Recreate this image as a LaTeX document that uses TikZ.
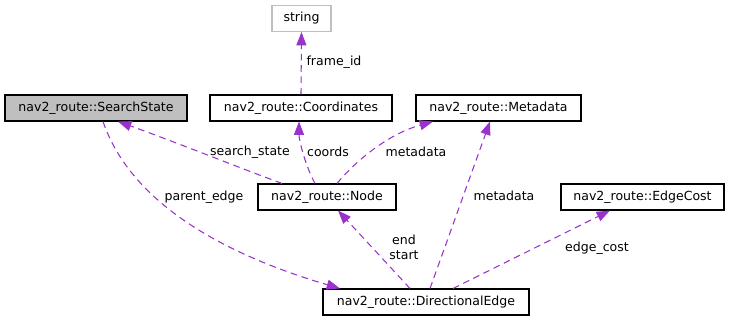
\documentclass[tikz,border=0pt]{standalone}
\usepackage{fontspec}
\setmainfont{DejaVu Sans}
\usetikzlibrary{arrows.meta,calc}
\definecolor{edgec}{HTML}{9A32CD}
\definecolor{grayfill}{HTML}{BFBFBF}
\begin{document}
\begin{tikzpicture}[x=0.75pt,y=-0.75pt,
  box/.style={draw=black,line width=0.8pt,inner sep=0pt,minimum height=19.5pt,font=\fontsize{9.4}{11}\selectfont},
  lbl/.style={font=\fontsize{9.4}{11}\selectfont,inner sep=0pt,align=center},
  rel/.style={draw=edgec,line width=0.8pt,dash pattern=on 5pt off 3.5pt,-{Triangle[length=10pt,width=7.5pt,fill=edgec]}}]
\useasboundingbox (0,0) rectangle (730,320);
\node[box,draw=grayfill,minimum width=44.25pt] (str) at (301.5,18.5) {string};
\node[box,fill=grayfill,minimum width=136.5pt] (ss) at (96,108) {nav2\_route::SearchState};
\node[box,minimum width=136.5pt] (co) at (301,108) {nav2\_route::Coordinates};
\node[box,minimum width=123.75pt] (me) at (498.5,108) {nav2\_route::Metadata};
\node[box,minimum width=103.5pt] (nd) at (327,197) {nav2\_route::Node};
\node[box,minimum width=122.25pt] (ec) at (642.5,197) {nav2\_route::EdgeCost};
\node[box,minimum width=154.5pt] (de) at (426,302) {nav2\_route::DirectionalEdge};
% edges
\draw[rel] (co.north) -- (str.south);
\node[lbl] (l1) at (334,62) {frame\_id};
\draw[rel] ($(nd.north)+(-45,0)$) .. controls (240,168) and (170,140) .. ($(ss.south)+(22,0)$);
\node[lbl] (l2) at (250,152) {search\_state};
\draw[rel] ($(nd.north)+(-12,0)$) .. controls (305,165) and (299,140) .. ($(co.south)+(-2,0)$);
\node[lbl] (l3) at (328,152) {coords};
\draw[rel] ($(nd.north)+(10,0)$) .. controls (352,165) and (385,135) .. ($(me.south)+(-65.5,0)$);
\node[lbl] (l4) at (416,152) {metadata};
\draw[rel] ($(ss.south)+(7,0)$) .. controls (135,215) and (250,262) .. ($(de.north)+(-86,0)$);
\node[lbl] (l5) at (204,197) {parent\_edge};
\draw[rel] ($(de.north)+(-16,0)$) -- ($(nd.south)+(11,0)$);
\node[lbl] (l6) at (404,247) {end\\start};
\draw[rel] ($(de.north)+(4,0)$) -- ($(me.south)+(-8.5,0)$);
\node[lbl] (l7) at (504,196) {metadata};
\draw[rel] ($(de.north)+(27,0)$) -- ($(ec.south)+(-32.5,0)$);
\node[lbl] (l8) at (597,248) {edge\_cost};
\end{tikzpicture}
\end{document}
